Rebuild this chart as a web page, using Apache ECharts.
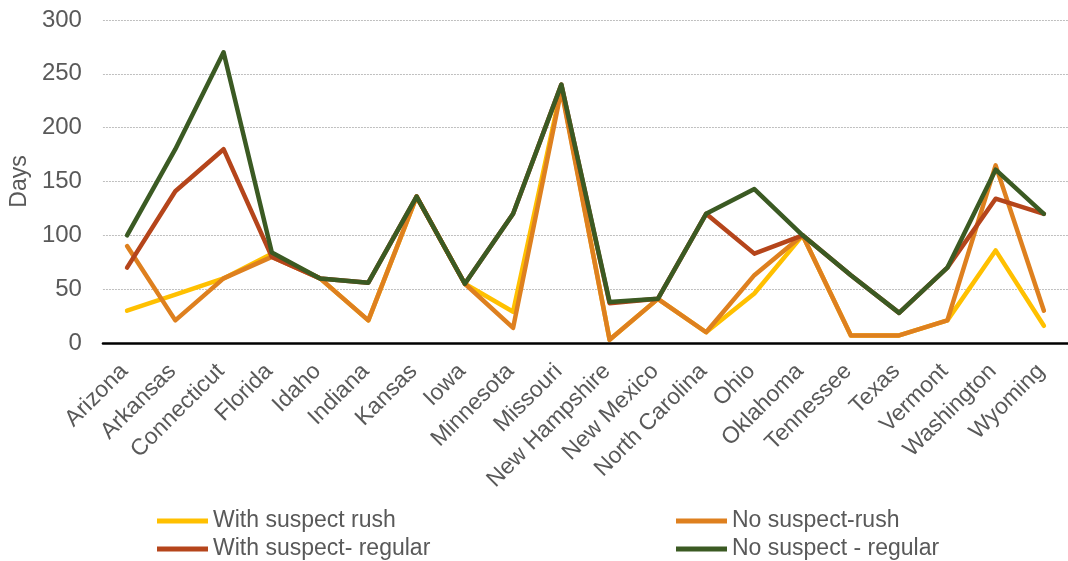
<!DOCTYPE html>
<html>
<head>
<meta charset="utf-8">
<script src="https://cdn.jsdelivr.net/npm/echarts@6/dist/echarts.min.js"></script>
<style>
  html, body { margin: 0; padding: 0; background: #fff; }
  #chart { width: 1068px; height: 561px; }
</style>
</head>
<body>
<div id="chart"></div>
<script>
// States on the category axis
const states = ['Arizona', 'Arkansas', 'Connecticut', 'Florida', 'Idaho', 'Indiana', 'Kansas',
  'Iowa', 'Minnesota', 'Missouri', 'New Hampshire', 'New Mexico', 'North Carolina', 'Ohio',
  'Oklahoma', 'Tennessee', 'Texas', 'Vermont', 'Washington', 'Wyoming'];

// Days per state for each case type
const withSuspectRush    = [30, 45, 60, 83, 60, 21, 136, 55, 29, 237, 3, 41, 10, 46, 100, 7, 7, 21, 86, 16];
const noSuspectRush      = [90, 21, 60, 80, 60, 21, 136, 55, 14, 235, 3, 41, 10, 63, 100, 7, 7, 21, 165, 30];
const withSuspectRegular = [70, 141, 180, 80, 60, 56, 136, 55, 120, 240, 37, 41, 120, 83, 100, 63, 28, 70, 134, 120];
const noSuspectRegular   = [100, 180, 270, 84, 60, 56, 136, 55, 120, 240, 38, 41, 120, 143, 100, 63, 28, 70, 161, 120];

// Y axis range
const yMin = 0, yMax = 300, yStep = 50;

const FONT = '"Liberation Sans", Arial, sans-serif';
const TEXT = '#595959';

const seriesDefs = [
  { name: 'With suspect rush', data: withSuspectRush, color: '#FFC000' },
  { name: 'No suspect-rush', data: noSuspectRush, color: '#DE801F' },
  { name: 'With suspect- regular', data: withSuspectRegular, color: '#B5451B' },
  { name: 'No suspect - regular', data: noSuspectRegular, color: '#3B5A23' }
];

const legendBase = {
  orient: 'vertical',
  icon: 'rect',
  itemWidth: 51,
  itemHeight: 5,
  itemGap: 4,
  height: 80,
  padding: 0,
  textStyle: { color: TEXT, fontSize: 23, fontFamily: FONT, lineHeight: 24 }
};

const chart = echarts.init(document.getElementById('chart'), null, { renderer: 'canvas' });
chart.setOption({
  animation: false,
  backgroundColor: '#ffffff',
  grid: { left: 98, right: -5, top: 20, bottom: 218, containLabel: false },
  legend: [
    Object.assign({}, legendBase, { left: 157, top: 509, data: ['With suspect rush', 'With suspect- regular'] }),
    Object.assign({}, legendBase, { left: 676, top: 509, data: ['No suspect-rush', 'No suspect - regular'] })
  ],
  xAxis: {
    type: 'category',
    data: states,
    boundaryGap: true,
    axisLine: { lineStyle: { color: '#000000', width: 2.5 } },
    axisTick: { show: false },
    axisLabel: {
      rotate: 45, interval: 0, margin: 22, padding: [0, 4, 0, 0],
      color: TEXT, fontSize: 23, fontFamily: FONT
    }
  },
  yAxis: {
    type: 'value',
    min: yMin, max: yMax, interval: yStep,
    name: 'Days',
    nameLocation: 'middle',
    nameRotate: 90,
    nameGap: 62,
    nameTextStyle: { color: TEXT, fontSize: 23, fontFamily: FONT },
    axisLine: { show: false },
    axisTick: { show: false },
    axisLabel: { margin: 21, color: TEXT, fontSize: 24, fontFamily: FONT },
    splitLine: { lineStyle: { color: '#BFBFBF', type: [2, 1], width: 1 } }
  },
  series: seriesDefs.map(s => ({
    name: s.name,
    type: 'line',
    data: s.data,
    symbol: 'none',
    color: s.color,
    lineStyle: { width: 4.5, color: s.color, join: 'round', cap: 'round' }
  }))
});
</script>
</body>
</html>
